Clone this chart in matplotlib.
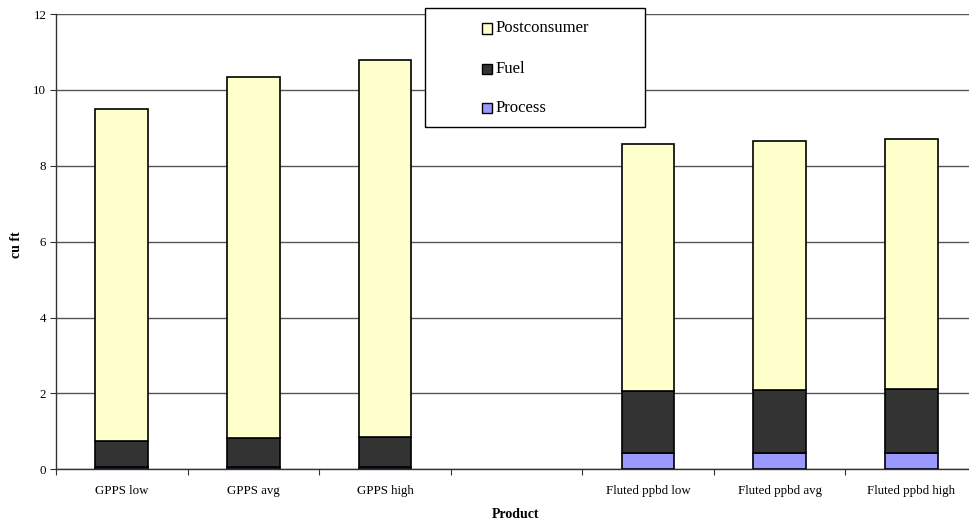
import matplotlib
matplotlib.use("Agg")
import matplotlib.pyplot as plt
import numpy as np
from matplotlib.patches import Rectangle

categories = ["GPPS low", "GPPS avg", "GPPS high", "", "Fluted ppbd low", "Fluted ppbd avg", "Fluted ppbd high"]
process = [0.07, 0.07, 0.07, np.nan, 0.43, 0.43, 0.44]
fuel = [0.68, 0.76, 0.79, np.nan, 1.64, 1.67, 1.68]
postconsumer = [8.74, 9.52, 9.92, np.nan, 6.50, 6.55, 6.59]
series_names = ["Postconsumer", "Fuel", "Process"]
series_colors = ["#FFFFCC", "#333333", "#9999FF"]

plt.rcParams['font.family'] = ['Liberation Serif', 'DejaVu Serif']

W, H = 969, 523
fig = plt.figure(figsize=(W / 100, H / 100), dpi=100)
left, right, top, bottom = 56, 977, 14, 469.3
ax = fig.add_axes([left / W, 1 - bottom / H, (right - left) / W, (bottom - top) / H])

x = np.arange(len(categories))
b1 = np.array(process)
b2 = b1 + np.array(fuel)
ax.bar(x, process, width=0.4, color=series_colors[2], edgecolor='black', linewidth=1.2, zorder=3)
ax.bar(x, fuel, bottom=b1, width=0.4, color=series_colors[1], edgecolor='black', linewidth=1.2, zorder=3)
ax.bar(x, postconsumer, bottom=b2, width=0.4, color=series_colors[0], edgecolor='black', linewidth=1.2, zorder=3)

ax.set_xlim(-0.5, len(categories) - 0.5)
ax.set_ylim(0, 12)
ax.set_yticks(np.arange(0, 13, 2))
ax.yaxis.grid(True, color='#555555', linewidth=1.0, zorder=0)
ax.set_axisbelow(True)
ax.set_xticks(np.arange(-0.5, len(categories), 1.0))
ax.set_xticklabels([])
ax.set_xticks(x, minor=True)
ax.set_xticklabels(categories, minor=True)
ax.tick_params(axis='x', which='minor', length=0, pad=11, labelsize=9.3)
ax.tick_params(axis='x', which='major', length=4, direction='out', color='#333333')
ax.tick_params(axis='y', length=4, direction='out', labelsize=9.3, pad=3, color='#333333')
for s in ['top', 'right']:
    ax.spines[s].set_visible(False)
for s in ['left', 'bottom']:
    ax.spines[s].set_color('#333333')
    ax.spines[s].set_linewidth(1.0)

fig.text(17 / W, 1 - 245 / H, "cu ft", rotation=90, ha='center', va='center', fontsize=10, fontweight='bold')
fig.text(516 / W, 1 - 514 / H, "Product", ha='center', va='center', fontsize=10, fontweight='bold')

# legend box
lx0, ly0, lx1, ly1 = 424.5, 7.5, 645, 127
fig.patches.append(Rectangle((lx0 / W, 1 - ly1 / H), (lx1 - lx0) / W, (ly1 - ly0) / H,
                             transform=fig.transFigure, facecolor='white', edgecolor='black',
                             linewidth=1.0, zorder=10))
ys = [28.5, 69, 108]
for name, col, yy in zip(series_names, series_colors, ys):
    fig.patches.append(Rectangle((482 / W, 1 - (yy + 5) / H), 10 / W, 10 / H,
                                 transform=fig.transFigure, facecolor=col, edgecolor='black',
                                 linewidth=1.0, zorder=11))
    fig.text(496 / W, 1 - yy / H, name, ha='left', va='center', fontsize=12, zorder=12)

fig.savefig("out.png", dpi=100)
